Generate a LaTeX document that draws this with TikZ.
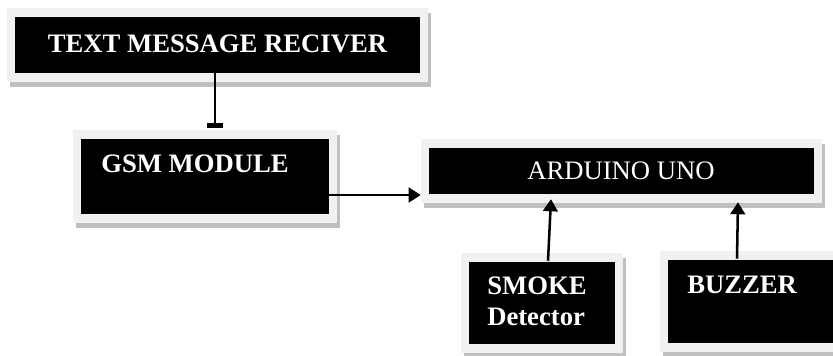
\documentclass[tikz,border=0pt]{standalone}
\usepackage{fontspec}
\setmainfont{Liberation Serif}
\usetikzlibrary{arrows.meta,shadows,calc}
\definecolor{framegray}{RGB}{241,241,241}
\definecolor{shadowgray}{RGB}{192,192,192}
\tikzset{
  blockbox/.style={rectangle, inner sep=0pt, draw=none, fill=framegray,
    general shadow={fill=shadowgray, shadow xshift=2.4pt, shadow yshift=-3.75pt},
    path picture={\fill[black] ([shift={(6pt,-6.4pt)}]path picture bounding box.north west)
      rectangle ([shift={(-6pt,6.4pt)}]path picture bounding box.south east);}},
  btxt/.style={text=white, font=\fontsize{20pt}{23pt}\selectfont\bfseries, inner sep=0pt},
  rtxt/.style={text=white, font=\fontsize{20pt}{23pt}\selectfont, inner sep=0pt},
  arr/.style={line width=1.9pt, -{Triangle[length=9pt,width=11pt]}},
  teearr/.style={line width=1.9pt, -{Rectangle[length=3.8pt,width=12pt]}},
}
\begin{document}
\begin{tikzpicture}[x=0.75pt,y=-0.75pt]
\useasboundingbox (0,0) rectangle (833,356);
\node[blockbox, minimum width=315.75pt, minimum height=55.5pt] (tmr) at (217.5,45) {};
\node[blockbox, minimum width=198pt, minimum height=69.75pt] (gsm) at (205,176.5) {};
\node[blockbox, minimum width=300.75pt, minimum height=48pt] (ard) at (621.5,171) {};
\node[blockbox, minimum width=121.5pt, minimum height=75pt] (smoke) at (542,303) {};
\node[blockbox, minimum width=142.5pt, minimum height=75.75pt] (buzz) at (755,301.5) {};

\node[btxt, anchor=base] (tmrt) at (217.5,53) {TEXT MESSAGE RECIVER};
\node[btxt, anchor=base west] (gsmt) at (101,173) {GSM MODULE};
\node[rtxt, anchor=base] (ardt) at (621,180) {ARDUINO UNO};
\node[btxt, anchor=base west] (smoket) at (487,295) {SMOKE};
\node[btxt, anchor=base west] (dett) at (487,326) {Detector};
\node[btxt, anchor=base west] (buzzt) at (687,294) {BUZZER};

\draw[teearr] ($(tmr.south)+(-2.5,-9)$) -- ($(gsm.north)+(10,-2)$);
\draw[arr] ($(gsm.east)+(-9,18.5)$) -- ($(ard.west)+(0,24)$);
\draw[arr] ($(smoke.north)+(6,8)$) -- ($(ard.south)+(-70.5,-4)$);
\draw[arr] ($(buzz.north)+(-18,8)$) -- ($(ard.south)+(116.5,-1)$);
\end{tikzpicture}
\end{document}
